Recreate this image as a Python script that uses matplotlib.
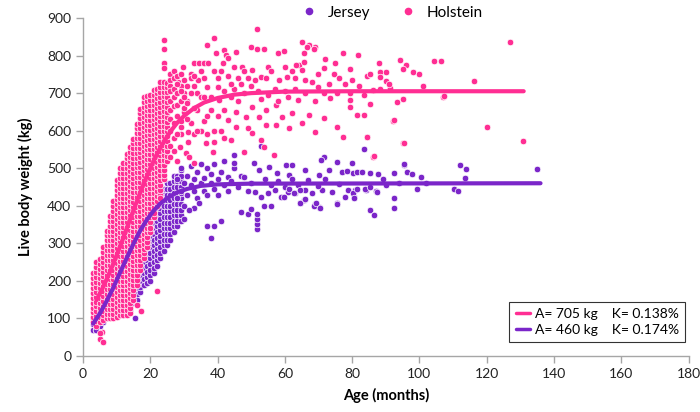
import numpy as np
import matplotlib
matplotlib.use('Agg')
import matplotlib.pyplot as plt
from matplotlib.lines import Line2D

plt.rcParams['font.family'] = ['Lato', 'DejaVu Sans']

pink = '#FF2E93'
purple = '#7B26C9'

# dense columns of dots (integer months), range of weights seen in each column
hol_band_month = [3, 4, 5, 6, 7, 8, 9, 10, 11, 12, 13, 14, 15, 16, 17, 18, 19, 20,
                  21, 22, 23, 24, 25]
hol_band_low = [90, 80, 90, 95, 100, 100, 100, 105, 110, 110, 110, 115, 150, 190, 230,
                260, 290, 330, 370, 400, 430, 470, 520]
hol_band_high = [230, 250, 270, 300, 340, 380, 420, 470, 500, 520, 545, 565, 590, 625,
                 665, 700, 700, 705, 710, 720, 730, 740, 740]

jer_band_month = [3, 4, 5, 6, 7, 8, 9, 10, 11, 12, 13, 14, 15, 16, 17, 18, 19, 20,
                  21, 22, 23, 24, 25, 26, 27, 28, 29]
jer_band_low = [70, 70, 80, 90, 100, 110, 110, 110, 110, 110, 115, 120, 140, 150, 170,
                190, 195, 200, 220, 240, 260, 280, 295, 310, 330, 345, 360]
jer_band_high = [110, 120, 130, 140, 160, 180, 190, 200, 220, 250, 270, 290, 310, 330,
                 350, 370, 390, 410, 420, 430, 440, 450, 460, 470, 480, 490, 495]

# scattered individual animals
hol_age = [24, 24, 24, 24, 38.8, 36.9, 39.5, 42, 42.5, 45.4, 49.9, 51.8, 51.8, 53.8, 58,
           59.7, 65.1, 67.1, 69.1, 66.6, 68.6, 65.6, 32.9, 34.4, 35.9, 37.3, 29.6, 34.1,
           28.2, 41.5, 43, 44.9, 47.4, 50.3, 52.8, 54.3, 58.2, 60.7, 64.1, 65.1, 68.1,
           63.2, 65.6, 40, 42, 45, 48, 50, 52, 55, 57, 60, 63, 66, 70, 40.5, 42, 43, 45.4,
           48.4, 50.3, 52.3, 54.3, 57.3, 59.2, 62.2, 67.1, 45.4, 48.9, 50.3, 54.3, 57.3,
           61.2, 65.1, 69.1, 44, 47.9, 52.8, 53.8, 56.8, 36.6, 38.5, 31.1, 31.1, 28.7,
           30.7, 33.1, 31.6, 77.4, 81.6, 71.5, 74.5, 79.4, 84.3, 85.3, 88.3, 90.2, 88.3,
           90.2, 94.2, 96.1, 95.2, 98.1, 104.3, 106.3, 116.2, 127, 71.5, 75.5, 77.4, 84.3,
           86.3, 92.2, 95.2, 81.4, 83.4, 79.4, 79.4, 85.3, 93.2, 95.2, 107, 120.1, 130.9,
           71.5, 73.5, 75.5, 79.4, 83.4, 86.3, 88.3, 91.3, 107.2, 92.4, 95.5, 86.5, 84.5,
           29, 30, 31, 32, 33, 34, 35, 36, 37, 38, 39, 30, 32, 34, 36, 38, 29, 33, 35, 37,
           39, 40, 41, 43, 44, 46, 47, 49, 48, 51, 55, 56, 60, 62, 63, 66, 70, 72, 75, 76,
           78, 80, 82, 88, 91, 100, 101, 73, 44, 46, 53, 58, 61, 64, 69, 34, 29, 31, 33,
           35, 37, 39, 41, 42, 40, 36, 5, 6, 5.5, 5, 22.1, 15.9, 17.3, 20, 23, 21,
           26, 26, 26, 26, 26, 26, 26, 26, 26, 27, 27, 27, 27, 27, 27, 27, 28, 28, 28, 28,
           28, 28, 29, 29, 29, 29, 30, 30, 30, 31, 31, 32, 32, 33, 26, 27, 28]
hol_weight = [841, 817, 780, 768, 848, 828, 808, 815, 801, 810, 824, 870, 817, 817, 806,
              812, 837, 828, 824, 824, 817, 806, 781, 781, 781, 781, 770, 735, 730, 779,
              793, 770, 770, 761, 744, 739, 735, 744, 775, 761, 730, 775, 784, 715, 705,
              712, 700, 718, 705, 695, 710, 705, 712, 700, 715, 682, 655, 628, 650, 637,
              664, 637, 655, 668, 637, 646, 642, 610, 606, 593, 615, 615, 606, 620, 597,
              575, 544, 575, 557, 535, 566, 544, 597, 571, 557, 540, 513, 531, 808, 801,
              768, 751, 763, 745, 751, 757, 757, 744, 733, 788, 775, 763, 757, 785, 785,
              733, 837, 633, 610, 582, 582, 531, 626, 566, 642, 642, 662, 682, 671, 677,
              685, 690, 610, 573, 699, 686, 699, 699, 695, 708, 710, 713, 692, 628, 568,
              532, 582, 720, 700, 680, 750, 720, 700, 760, 740, 715, 690, 760, 650, 620,
              655, 625, 655, 610, 590, 600, 640, 600, 740, 760, 745, 725, 740, 725, 740,
              760, 735, 770, 760, 770, 760, 740, 735, 750, 790, 780, 740, 725, 735, 720,
              780, 725, 750, 720, 725, 690, 680, 685, 680, 690, 683, 680, 600, 590, 630,
              660, 690, 590, 570, 600, 580, 640, 690, 45, 38, 65, 60, 174, 136, 120, 340,
              420, 380,
              750, 735, 720, 705, 680, 655, 630, 600, 560, 760, 740, 712, 690, 665, 620,
              580, 745, 725, 700, 668, 640, 590, 750, 705, 680, 625, 735, 690, 660, 720,
              675, 740, 700, 745, 530, 545, 520]

jer_age = [28, 28, 29, 29, 30, 30, 31, 31, 32, 32, 33, 33, 34, 34, 35, 35, 36, 36, 37, 37,
           38, 38, 39, 39, 40, 40, 41, 42, 42, 43, 43, 44, 45, 46, 47, 48, 49, 50, 38, 37,
           38.8, 41, 29.9, 51.6, 51.6, 51.6, 51.6, 46.9, 48.9, 49.9, 53.8, 55.8, 69.1,
           70.1, 75.5, 64.6, 65.6, 34.6, 33.1, 31.6, 44.9, 44.9, 60.2, 62.2, 71.5, 75.5,
           79.9, 52.3, 55.3, 57.7, 61.2, 66.1, 70.1, 73, 76.9, 80.4, 52.8, 50.8, 51, 53,
           55, 57, 59, 61, 63, 66, 68, 71, 74, 78, 54, 56, 58, 60, 62, 64, 67, 70, 72, 76,
           83.6, 78.4, 81.4, 82.9, 85.3, 87.6, 89.3, 92.5, 95.4, 96.4, 97.8, 100.4, 112.1,
           113.9, 113.7, 70.6, 95.5, 135, 80.7, 85.3, 86.5, 92.4, 92.4, 99.4, 110.3, 111.4,
           87, 84, 81, 78.9, 80.4, 83.7, 85.3, 87.4, 59.6, 61.2, 62.7, 64.4, 64.6, 65.9,
           68.6, 69.4, 70.3, 75.6, 80.7, 81.5, 90, 94, 102, 3.8, 15.4, 13, 12]
jer_weight = [420, 470, 440, 500, 460, 400, 480, 430, 455, 505, 440, 470, 490, 420, 460,
              510, 440, 475, 500, 430, 460, 485, 445, 510, 470, 430, 490, 455, 520, 477,
              440, 465, 500, 450, 480, 477, 440, 460, 313, 346, 346, 359, 364, 338, 351,
              364, 378, 383, 377, 391, 400, 400, 406, 396, 408, 408, 415, 407, 394, 389,
              514, 535, 508, 508, 531, 517, 513, 495, 504, 486, 482, 495, 482, 495, 491,
              486, 560, 513, 437, 424, 433, 442, 424, 437, 433, 442, 433, 442, 437, 424,
              470, 455, 465, 450, 470, 455, 468, 452, 470, 458, 552, 493, 491, 489, 488,
              485, 470, 488, 509, 491, 485, 476, 508, 499, 475, 522, 510, 498, 424, 389,
              375, 421, 395, 445, 445, 440, 440, 443, 442, 442, 435, 445, 451, 437, 424,
              446, 435, 442, 407, 417, 399, 408, 393, 406, 422, 446, 455, 460, 462, 69,
              101, 140, 170]

# fitted growth curves
hol_curve_age = [4, 6, 8, 10, 12, 14, 16, 18, 20, 22, 24, 26, 28, 30, 33, 36, 40, 45, 50,
                 60, 80, 131]
hol_curve_w = [149, 184, 224, 268, 315, 364, 412, 458, 500, 538, 570, 598, 621, 639, 660,
               675, 687, 696, 700, 704, 705, 705]
jer_curve_age = [3, 5, 7, 9, 11, 13, 15, 17, 19, 21, 23, 25, 28, 31, 35, 40, 50, 136]
jer_curve_w = [86, 113, 146, 182, 222, 261, 299, 334, 363, 387, 406, 420, 436, 445, 453,
               457, 459, 460]

hol_label = 'A= 705 kg    K= 0.138%'
jer_label = 'A= 460 kg    K= 0.174%'


def band_points(months, lows, highs, step):
    xs, ys = [], []
    for m, lo, hi in zip(months, lows, highs):
        w = np.arange(lo, hi + 1, step)
        xs.extend([m] * len(w))
        ys.extend(w)
    return xs, ys


hx, hy = band_points(hol_band_month, hol_band_low, hol_band_high, 13)
jx, jy = band_points(jer_band_month, jer_band_low, jer_band_high, 15)
hx += hol_age
hy += hol_weight
jx += jer_age
jy += jer_weight

fig = plt.figure(figsize=(7, 4.12), dpi=100)
ax = fig.add_axes([0.1186, 0.1359, 0.865, 0.8204])

ax.scatter(jx, jy, s=22, c=purple, edgecolors='white', linewidths=0.5, zorder=2)
ax.scatter(hx, hy, s=22, c=pink, edgecolors='white', linewidths=0.5, zorder=3)

l1, = ax.plot(hol_curve_age, hol_curve_w, color=pink, lw=3, solid_capstyle='round', zorder=4)
l2, = ax.plot(jer_curve_age, jer_curve_w, color=purple, lw=3, solid_capstyle='round', zorder=5)

ax.set_xlim(0, 180)
ax.set_ylim(0, 900)
ax.set_xticks(range(0, 181, 20))
ax.set_yticks(range(0, 901, 100))
for s in ['top', 'right']:
    ax.spines[s].set_visible(False)
for s in ['left', 'bottom']:
    ax.spines[s].set_color('#A6A6A6')
    ax.spines[s].set_linewidth(1)
ax.tick_params(axis='both', colors='#A6A6A6', labelcolor='#222222', labelsize=10,
               length=5, width=1)

ax.set_xlabel('Age (months)', fontsize=10.5, fontweight='bold', labelpad=6)
ax.set_ylabel('Live body weight (kg)', fontsize=10.5, fontweight='bold', labelpad=10)

leg = ax.legend([l1, l2], [hol_label, jer_label], loc='lower right',
                bbox_to_anchor=(0.995, 0.04), borderaxespad=0, fontsize=10,
                handlelength=1.0, handletextpad=0.4, fancybox=False,
                edgecolor='black', borderpad=0.45, labelspacing=0.3)
leg.get_frame().set_linewidth(0.8)
for ln in leg.get_lines():
    ln.set_linewidth(2.5)

top_handles = [Line2D([], [], ls='none', marker='o', ms=4.5, color=purple),
               Line2D([], [], ls='none', marker='o', ms=4.5, color=pink)]
fig.legend(top_handles, ['Jersey', 'Holstein'], loc='upper center',
           bbox_to_anchor=(0.555, 1.02), ncol=2, frameon=False, fontsize=11,
           handletextpad=0.2, columnspacing=1.5)

fig.savefig('out.png', dpi=100)
